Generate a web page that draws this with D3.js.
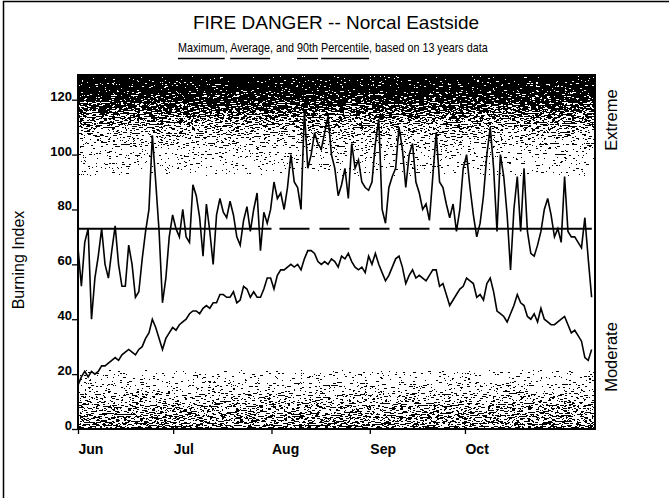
<!DOCTYPE html>
<html>
<head>
<meta charset="utf-8">
<script src="https://cdn.jsdelivr.net/npm/d3@7"></script>
<style>
  body { margin: 0; background: #fff; }
  svg text { font-family: "Liberation Sans", Arial, sans-serif; fill: #000; }
</style>
</head>
<body>
<svg id="chart" width="669" height="498"></svg>
<script>
// ---- data (one value per sample from early June to the axis end) ----
const startDay = new Date(2000, 5, 1);
const endDay = new Date(2000, 10, 11);
const monthTicks = [new Date(2000, 5, 1), new Date(2000, 6, 1), new Date(2000, 7, 1), new Date(2000, 8, 1), new Date(2000, 9, 1)];
const yTicks = [0, 20, 40, 60, 80, 100, 120];

const maxBI = [
  66, 52, 68, 73, 40, 55, 63, 73, 60, 55, 65, 74, 60, 52, 52, 67, 60, 48, 50, 62,
  72, 80, 107, 90, 72, 46, 55, 70, 78, 73,
  70, 80, 70, 68, 89, 85, 77, 63, 82, 72, 60, 78, 84, 79, 77, 83, 78, 70, 67, 76,
  81, 72, 80, 86, 65, 79, 75, 80, 90, 84,
  86, 80, 88, 100, 90, 88, 80, 116, 95, 100, 108, 104, 102, 108, 114, 100, 95, 85, 89, 95,
  84, 104, 95, 98, 90, 88, 87, 90, 104, 113,
  80, 75, 88, 92, 95, 110, 102, 88, 100, 104, 90, 86, 80, 82, 76, 92, 108, 90, 88, 82,
  77, 82, 72, 80, 95, 100, 88, 78, 70, 75,
  85, 100, 110, 95, 72, 100, 92, 78, 58, 80, 92, 72, 95, 72, 64, 63, 67, 72, 80, 84,
  78, 70, 73, 68, 92, 72, 70, 70, 68, 66, 77, 62, 48
];

const avgBI = [
  16, 19, 21, 19, 21, 20, 21, 23, 23, 24, 25, 26, 25, 27, 28, 29, 28, 27, 29, 30,
  33, 35, 40, 37, 33, 29, 33, 35, 37, 36, 38, 39, 40, 42, 43, 43, 42, 44, 45, 44,
  46, 46, 49, 49, 48, 48, 50, 46, 47, 52, 51, 48, 50, 48, 48, 51, 55, 55, 51, 56,
  58, 58, 59, 60, 59, 60, 58, 62, 65, 65, 64, 61, 60, 61, 60, 62, 61, 59,
  63, 62, 64, 61, 59, 58, 59, 57, 63, 60, 64, 60, 57, 54, 56, 59, 62, 63, 59, 53,
  56, 58, 55, 56, 55, 54, 56, 58, 58, 52, 53, 49, 45, 47, 49, 51, 52, 55,
  54, 53, 48, 49, 47, 53, 55, 50, 43, 42, 41, 39, 42, 45, 49, 46, 45, 41, 40, 42,
  39, 44, 40, 39, 38, 38, 39, 40, 41, 38, 35, 36, 34, 32, 26, 25, 29
];

const pct90 = 73;
const pctBreaks = [new Date(2000, 5, 1), new Date(2000, 7, 1), new Date(2000, 9, 1), new Date(2000, 10, 10)];

const title = 'FIRE DANGER -- Norcal Eastside';
const subtitle = 'Maximum, Average, and 90th Percentile, based on 13 years data';
const underlined = ['Maximum', 'Average', '90th', 'Percentile'];

// ---- layout ----
const plot = { left: 78, right: 595, top: 75, bottom: 429 };

const svg = d3.select('#chart');

const x = d3.scaleTime().domain([startDay, endDay]).range([plot.left, plot.right]);
// samples are evenly spread over the same span
const xi = d3.scaleLinear().domain([0, maxBI.length]).range([plot.left, plot.right]);
const y = d3.scaleLinear().domain([0, 129]).range([plot.bottom, plot.top]);

// dithered background: gradient thresholded against noise
const defs = svg.append('defs');
const grad = defs.append('linearGradient')
  .attr('id', 'shade')
  .attr('gradientUnits', 'userSpaceOnUse')
  .attr('x1', 0).attr('x2', 0)
  .attr('y1', plot.top).attr('y2', plot.bottom);
const shade = [[129, 0], [124, 0.08], [119, 0.25], [113, 0.5], [107, 0.75], [101, 0.92], [95, 0.98], [90, 1],
  [22, 1], [16, 0.9], [11, 0.72], [5, 0.58], [0, 0.5]];
shade.forEach(([v, w]) => {
  const g = Math.round(w * 255);
  grad.append('stop')
    .attr('offset', (y(v) - plot.top) / (plot.bottom - plot.top))
    .attr('stop-color', `rgb(${g},${g},${g})`);
});

const filt = defs.append('filter')
  .attr('id', 'dither')
  .attr('x', 0).attr('y', 0).attr('width', 1).attr('height', 1)
  .attr('color-interpolation-filters', 'sRGB');
filt.append('feTurbulence')
  .attr('type', 'fractalNoise').attr('baseFrequency', '0.25 1.1')
  .attr('numOctaves', 3).attr('seed', 7).attr('result', 'turb');
filt.append('feColorMatrix')
  .attr('in', 'turb').attr('type', 'matrix')
  .attr('values', '2.5 0 0 0 -0.75  2.5 0 0 0 -0.75  2.5 0 0 0 -0.75  0 0 0 0 1')
  .attr('result', 'noise');
filt.append('feComposite')
  .attr('in', 'SourceGraphic').attr('in2', 'noise').attr('operator', 'arithmetic')
  .attr('k1', 0).attr('k2', 1).attr('k3', 0.98).attr('k4', -0.49)
  .attr('result', 'sum');
const ct = filt.append('feComponentTransfer').attr('in', 'sum');
['feFuncR', 'feFuncG', 'feFuncB'].forEach(f => ct.append(f).attr('type', 'discrete').attr('tableValues', '0 1'));
ct.append('feFuncA').attr('type', 'table').attr('tableValues', '1 1');

svg.append('rect')
  .attr('x', plot.left).attr('y', plot.top)
  .attr('width', plot.right - plot.left).attr('height', plot.bottom - plot.top)
  .attr('fill', 'url(#shade)')
  .attr('filter', 'url(#dither)');

// outer page frame
svg.append('path')
  .attr('d', 'M3.5,498 V1.5 H669')
  .attr('fill', 'none').attr('stroke', '#000').attr('stroke-width', 1.5);

// titles
svg.append('text')
  .attr('x', 336).attr('y', 29)
  .attr('text-anchor', 'middle')
  .style('font-size', '19px')
  .text(title);

const subW = 310;
const sub = svg.append('g');
const subText = sub.append('text').attr('x', 0).attr('y', 0).style('font-size', '13px').text(subtitle);
const subNode = subText.node();
const sx = subW / subNode.getComputedTextLength();
sub.attr('transform', `translate(${333 - subW / 2},52) scale(${sx},1)`);
underlined.forEach(word => {
  const i = subtitle.indexOf(word);
  const x0 = i > 0 ? subNode.getSubStringLength(0, i) : 0;
  const w = subNode.getSubStringLength(i, word.length);
  sub.append('line')
    .attr('x1', x0).attr('x2', x0 + w)
    .attr('y1', 6.5).attr('y2', 6.5)
    .attr('stroke', '#000').attr('stroke-width', 1.3);
});

// 90th percentile line
const pctLine = d3.line().x(d => x(d)).y(() => y(pct90));
d3.pairs(pctBreaks).forEach(([a, b], i) => {
  svg.append('path')
    .attr('d', pctLine([a, b]))
    .attr('fill', 'none')
    .attr('stroke', '#000')
    .attr('stroke-width', 2)
    .attr('stroke-dasharray', i === 1 ? '30,10' : null)
    .attr('stroke-dashoffset', i === 1 ? 32 : null);
});

// series
const line = d3.line()
  .x((d, i) => xi(i))
  .y(d => y(d));

svg.append('path')
  .datum(avgBI)
  .attr('d', line)
  .attr('fill', 'none')
  .attr('stroke', '#000')
  .attr('stroke-width', 1.6);

svg.append('path')
  .datum(maxBI)
  .attr('d', line)
  .attr('fill', 'none')
  .attr('stroke', '#000')
  .attr('stroke-width', 1.6);

// plot frame
svg.append('rect')
  .attr('x', plot.left).attr('y', plot.top)
  .attr('width', plot.right - plot.left).attr('height', plot.bottom - plot.top)
  .attr('fill', 'none').attr('stroke', '#000').attr('stroke-width', 2);

// axes
const yAxis = svg.append('g')
  .attr('transform', `translate(${plot.left},0)`)
  .call(d3.axisLeft(y).tickValues(yTicks).tickSize(6).tickPadding(6));
yAxis.select('.domain').remove();
yAxis.selectAll('line').attr('stroke', '#000').attr('stroke-width', 1.3);
yAxis.selectAll('text')
  .attr('x', -6).attr('dy', null).attr('y', 0.5)
  .style('font-size', '13px').style('font-weight', 'bold')
  .attr('fill', '#000');

const xAxis = svg.append('g')
  .attr('transform', `translate(0,${plot.bottom})`)
  .call(d3.axisBottom(x).tickValues(monthTicks).tickSize(5).tickFormat(d3.timeFormat('%b')));
xAxis.select('.domain').remove();
xAxis.selectAll('line').attr('stroke', '#000').attr('stroke-width', 1.3);
xAxis.selectAll('text')
  .attr('text-anchor', 'start')
  .attr('x', 0).attr('dy', null).attr('y', 25)
  .style('font-size', '14px').style('font-weight', 'bold')
  .attr('fill', '#000');

// axis titles
svg.append('text')
  .attr('transform', 'translate(24,260) rotate(-90)')
  .attr('text-anchor', 'middle')
  .style('font-size', '16px')
  .text('Burning Index');

svg.append('text')
  .attr('transform', 'translate(617,120) rotate(-90)')
  .attr('text-anchor', 'middle')
  .style('font-size', '16.5px')
  .text('Extreme');

svg.append('text')
  .attr('transform', 'translate(617,357) rotate(-90)')
  .attr('text-anchor', 'middle')
  .style('font-size', '16.5px')
  .text('Moderate');
</script>
</body>
</html>
